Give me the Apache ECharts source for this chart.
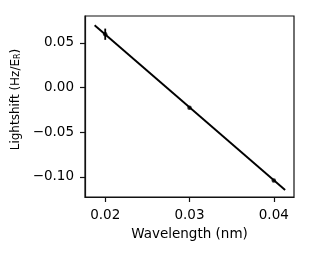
<!DOCTYPE html>
<html>
<head>
<meta charset="utf-8">
<script src="https://cdn.jsdelivr.net/npm/echarts@6/dist/echarts.min.js"></script>
<style>html,body{margin:0;padding:0;background:#fff}#c{width:312px;height:254px}</style>
</head>
<body>
<div id="c"></div>
<script>
// Measured points
const wavelengths = [0.02, 0.03, 0.04];
const lightshifts = [0.0598, -0.0224, -0.1040];
const errors = [0.0063, 0.0010, 0.0010];
// Linear fit line endpoints
const fitX = [0.01874, 0.04135];
const fitY = [0.0698, -0.1146];
// Axis ticks
const xTicks = [0.02, 0.03, 0.04];
const yTicks = [-0.10, -0.05, 0.00, 0.05];
const xRange = [0.0176, 0.0424];
const yRange = [-0.1224, 0.0802];

const font = 'DejaVu Sans';
const fmt = v => (v < 0 ? '\u2212' : '') + Math.abs(v).toFixed(2);

const chart = echarts.init(document.getElementById('c'), null, {renderer: 'canvas'});
chart.setOption({
  animation: false,
  backgroundColor: '#fff',
  grid: {left: 85, top: 16, width: 209, height: 181, show: true, borderColor: '#111', borderWidth: 1.2, containLabel: false},
  xAxis: {
    type: 'value', min: xRange[0], max: xRange[1],
    name: 'Wavelength (nm)', nameLocation: 'middle', nameGap: 30,
    nameTextStyle: {fontFamily: font, fontSize: 13.5, color: '#000'},
    axisLine: {show: true, onZero: false, lineStyle: {color: '#111', width: 1.2}},
    axisTick: {show: true, length: 5, customValues: xTicks, lineStyle: {color: '#111', width: 1.2}},
    axisLabel: {customValues: xTicks, formatter: v => v.toFixed(2), fontFamily: font, fontSize: 13.5, color: '#000', margin: 11},
    splitLine: {show: false}
  },
  yAxis: {
    type: 'value', min: yRange[0], max: yRange[1],
    name: 'Lightshift (Hz/E{sub|R})', nameLocation: 'middle', nameGap: 61,
    nameTextStyle: {fontFamily: font, fontSize: 12, color: '#000', padding: [0, 0, 0, 14],
      rich: {sub: {fontFamily: font, fontSize: 8, color: '#000', verticalAlign: 'bottom', padding: [3, 0, 0, 0]}}},
    axisLine: {show: true, onZero: false, lineStyle: {color: '#111', width: 1.2}},
    axisTick: {show: true, length: 5, customValues: yTicks, lineStyle: {color: '#111', width: 1.2}},
    axisLabel: {customValues: yTicks, formatter: fmt, fontFamily: font, fontSize: 13.5, color: '#000', margin: 11},
    splitLine: {show: false}
  },
  series: [
    {
      type: 'line', data: fitX.map((x, i) => [x, fitY[i]]),
      showSymbol: false, symbol: 'none',
      lineStyle: {color: '#000', width: 1.9}, z: 2
    },
    {
      type: 'custom',
      data: wavelengths.map((x, i) => [x, lightshifts[i] - errors[i], lightshifts[i] + errors[i]]),
      renderItem: (params, api) => {
        const lo = api.coord([api.value(0), api.value(1)]);
        const hi = api.coord([api.value(0), api.value(2)]);
        return {type: 'line', shape: {x1: lo[0], y1: lo[1], x2: hi[0], y2: hi[1]}, style: {stroke: '#000', lineWidth: 1.8}};
      },
      z: 3
    },
    {
      type: 'scatter', data: wavelengths.map((x, i) => [x, lightshifts[i]]),
      symbol: 'circle', symbolSize: 4.5, itemStyle: {color: '#000'}, z: 4
    }
  ]
});
</script>
</body>
</html>
